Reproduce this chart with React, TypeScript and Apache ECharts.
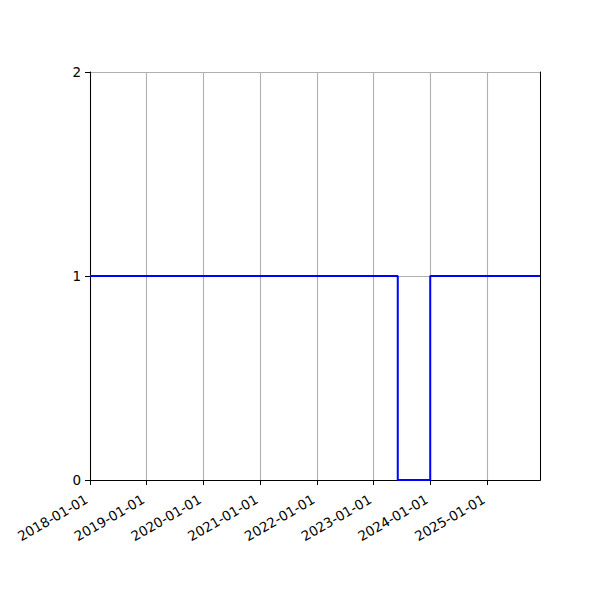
import React, { useEffect, useRef } from "react";
import * as echarts from "echarts";

const stepDates = ["2018-01-01", "2023-06-06", "2024-01-01", "2025-12-08"];
const stepValues = [1, 0, 1, 1];
const xMin = "2018-01-01";
const xMax = "2025-12-08";
const yTicks = [0, 1, 2];

export default function App() {
  const ref = useRef<HTMLDivElement>(null);
  useEffect(() => {
    if (!ref.current) return;
    const chart = echarts.init(ref.current, null, { renderer: "svg" });
    const DAY = 24 * 3600 * 1000;
    const font = "DejaVu Sans";
    const spine = { show: true, lineStyle: { color: "#000", width: 1 } };
    chart.setOption({
      animation: false,
      backgroundColor: "#ffffff",
      grid: {
        left: 90,
        right: 60,
        top: 72,
        bottom: 120,
        containLabel: false,
      },
      xAxis: [
        {
          type: "time",
          min: xMin,
          max: xMax,
          minInterval: 365 * DAY,
          maxInterval: 366 * DAY,
          axisLine: spine,
          axisTick: { show: true, length: 5, lineStyle: { color: "#000", width: 1 } },
          splitLine: { show: true, lineStyle: { color: "#b0b0b0", width: 1.1 } },
          axisLabel: {
            rotate: 30,
            margin: 16,
            padding: [0, 4, 0, 0],
            color: "#000",
            fontFamily: font,
            fontSize: 13.5,
            showMinLabel: true,
            showMaxLabel: false,
            hideOverlap: false,
            formatter: (v: number) => {
              const d = new Date(v);
              const y = d.getFullYear();
              const m = String(d.getMonth() + 1).padStart(2, "0");
              const dd = String(d.getDate()).padStart(2, "0");
              return `${y}-${m}-${dd}`;
            },
          },
        },
        {
          type: "time",
          position: "top",
          min: xMin,
          max: xMax,
          axisLine: spine,
          axisTick: { show: false },
          splitLine: { show: false },
          axisLabel: { show: false },
        },
      ],
      yAxis: [
        {
          type: "value",
          min: yTicks[0],
          max: yTicks[yTicks.length - 1],
          interval: 1,
          axisLine: spine,
          axisTick: { show: true, length: 5, lineStyle: { color: "#000", width: 1 } },
          splitLine: { show: true, lineStyle: { color: "#b0b0b0", width: 1.1 } },
          axisLabel: {
            margin: 9,
            color: "#000",
            fontFamily: font,
            fontSize: 13.5,
          },
        },
        {
          type: "value",
          position: "right",
          min: yTicks[0],
          max: yTicks[yTicks.length - 1],
          interval: 1,
          axisLine: spine,
          axisTick: { show: false },
          splitLine: { show: false },
          axisLabel: { show: false },
        },
      ],
      series: [
        {
          type: "line",
          step: "end",
          showSymbol: false,
          symbol: "none",
          xAxisIndex: 0,
          yAxisIndex: 0,
          lineStyle: { color: "#0000ff", width: 2 },
          data: stepDates.map((d, i) => [d, stepValues[i]]),
        },
      ],
    });
    return () => chart.dispose();
  }, []);
  return (
    <div
      ref={ref}
      style={{ position: "absolute", left: 0, top: 0, width: 600, height: 600 }}
    />
  );
}
